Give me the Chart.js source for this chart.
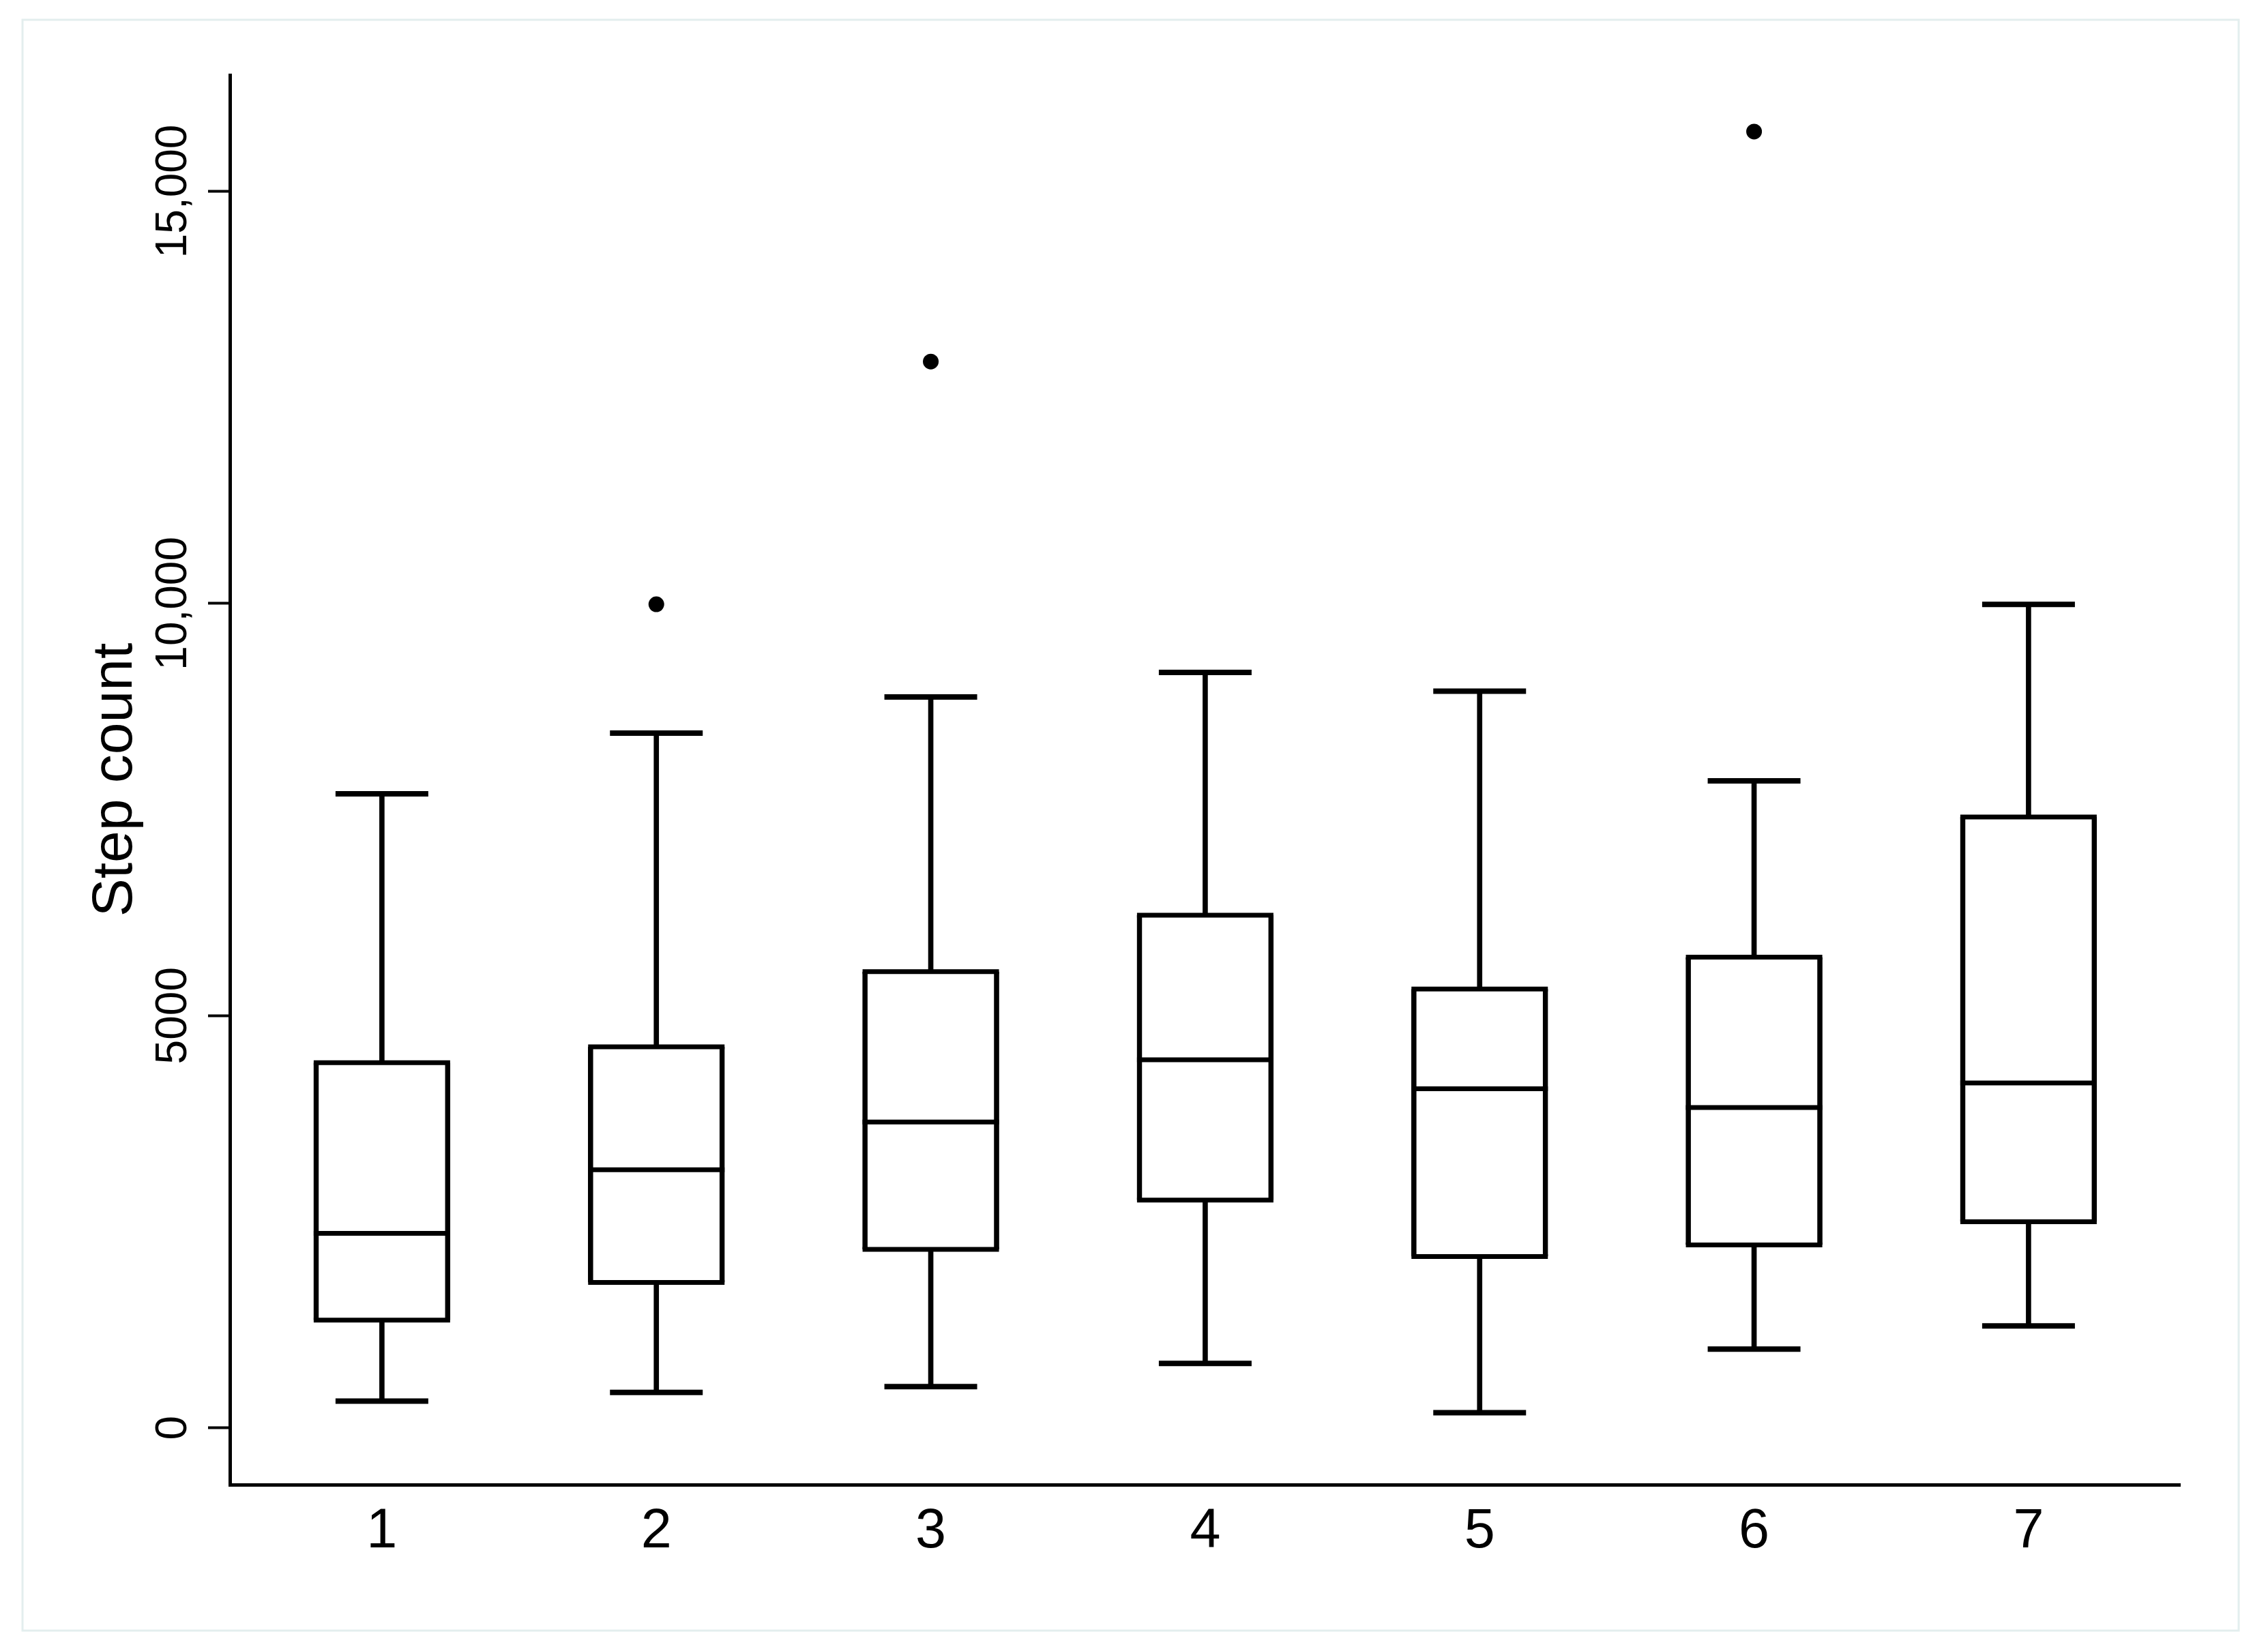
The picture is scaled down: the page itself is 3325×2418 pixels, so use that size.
<!DOCTYPE html>
<html>
<head>
<meta charset="utf-8">
<script src="https://cdn.jsdelivr.net/npm/chart.js@4.4.1/dist/chart.umd.min.js"></script>
<style>
  html, body { margin: 0; padding: 0; background: #ffffff; }
  #wrap { width: 3325px; height: 2418px; }
</style>
</head>
<body>
<div id="wrap"><canvas id="c" width="3325" height="2418"></canvas></div>
<script>
// ---- data ----
const categories = [1, 2, 3, 4, 5, 6, 7];
const categoryLabels = ['1', '2', '3', '4', '5', '6', '7'];
const whiskerLow  = [324, 429, 499, 780, 183, 955, 1236];
const q1          = [1306, 1762, 2165, 2762, 2077, 2218, 2499];
const median      = [2358, 3130, 3709, 4463, 4112, 3884, 4182];
const q3          = [4428, 4621, 5533, 6217, 5323, 5709, 7410];
const whiskerHigh = [7691, 8427, 8866, 9164, 8936, 7848, 9988];
const outlierCategory = [2, 3, 6];
const outlierValue    = [9990, 12934, 15724];
const yTickValues = [0, 5000, 10000, 15000];
const yTickLabels = ['0', '5000', '10,000', '15,000'];
const yAxisTitle = 'Step count';

const FONT = '"Liberation Sans", Arial, Helvetica, sans-serif';

const pageFrame = {
  id: 'pageFrame',
  beforeDraw(chart) {
    const ctx = chart.ctx;
    ctx.save();
    ctx.fillStyle = '#ffffff';
    ctx.fillRect(0, 0, chart.width, chart.height);
    ctx.strokeStyle = '#e3eeee';
    ctx.lineWidth = 3;
    ctx.strokeRect(33, 29, 3249, 2362);
    ctx.restore();
  }
};

const rotatedYLabels = {
  id: 'rotatedYLabels',
  afterDraw(chart) {
    const ctx = chart.ctx;
    const ys = chart.scales.y;
    const bx = chart.chartArea.left - 64;
    ctx.save();
    ctx.font = '64px ' + FONT;
    ctx.fillStyle = '#000000';
    ctx.textAlign = 'center';
    ctx.textBaseline = 'alphabetic';
    yTickValues.forEach((v, i) => {
      const py = ys.getPixelForValue(v);
      ctx.save();
      ctx.translate(bx, py);
      ctx.rotate(-Math.PI / 2);
      ctx.fillText(yTickLabels[i], 0, 0);
      ctx.restore();
    });
    ctx.restore();
  }
};

const hLine = (values, radius, width, label) => ({
  type: 'scatter', label: label,
  data: categories.map((c, i) => ({ x: c, y: values[i] })),
  pointStyle: 'line', pointRadius: radius, pointBorderWidth: width,
  borderColor: '#000000', backgroundColor: '#000000', order: 1
});

const data = {
  datasets: [
    {
      type: 'bar', label: 'box sides',
      data: categories.map((c, i) => ({ x: c, y: [q1[i], q3[i]] })),
      backgroundColor: 'rgba(255,255,255,0)', borderColor: '#000000',
      borderWidth: { top: 0, bottom: 0, left: 7, right: 7 },
      borderSkipped: false, barThickness: 200, grouped: false, order: 2
    },
    hLine(q1, 100, 7, 'Q1'),
    hLine(median, 100, 7, 'median'),
    hLine(q3, 100, 7, 'Q3'),
    {
      type: 'bar', label: 'upper whisker',
      data: categories.map((c, i) => ({ x: c, y: [q3[i], whiskerHigh[i]] })),
      backgroundColor: '#000000', borderWidth: 0, barThickness: 7, grouped: false, order: 3
    },
    {
      type: 'bar', label: 'lower whisker',
      data: categories.map((c, i) => ({ x: c, y: [whiskerLow[i], q1[i]] })),
      backgroundColor: '#000000', borderWidth: 0, barThickness: 7, grouped: false, order: 3
    },
    hLine(whiskerHigh, 68, 8, 'upper cap'),
    hLine(whiskerLow, 68, 8, 'lower cap'),
    {
      type: 'scatter', label: 'outliers',
      data: outlierCategory.map((c, i) => ({ x: c, y: outlierValue[i] })),
      pointStyle: 'circle', pointRadius: 11.5, pointBorderWidth: 0,
      backgroundColor: '#000000', borderColor: '#000000', order: 0
    }
  ]
};

new Chart(document.getElementById('c'), {
  type: 'bar',
  data: data,
  plugins: [pageFrame, rotatedYLabels],
  options: {
    responsive: false,
    animation: false,
    devicePixelRatio: 1,
    layout: { padding: { top: 110, right: 129, bottom: 0, left: 0 } },
    plugins: { legend: { display: false }, tooltip: { enabled: false } },
    events: [],
    scales: {
      x: {
        type: 'linear',
        offset: false,
        min: 0.446, max: 7.552,
        afterBuildTicks: (s) => { s.ticks = categories.map(v => ({ value: v })); },
        afterFit: (s) => { s.height = 241; },
        grid: { display: false, drawTicks: false },
        border: { display: true, color: '#000000', width: 5 },
        ticks: {
          padding: 21,
          color: '#000000',
          font: { family: FONT, size: 81 },
          callback: (v) => categoryLabels[categories.indexOf(v)] ?? ''
        }
      },
      y: {
        type: 'linear',
        min: -690, max: 16410,
        afterBuildTicks: (s) => { s.ticks = yTickValues.map(v => ({ value: v })); },
        afterFit: (s) => { s.width = 337; },
        grid: { display: true, drawOnChartArea: false, drawTicks: true, tickLength: 32, tickWidth: 4, tickColor: '#000000' },
        border: { display: true, color: '#000000', width: 5 },
        ticks: { display: false },
        title: {
          display: true,
          text: yAxisTitle,
          color: '#000000',
          font: { family: FONT, size: 84 },
          padding: { top: 119, bottom: 0 }
        }
      }
    }
  }
});
</script>
</body>
</html>
